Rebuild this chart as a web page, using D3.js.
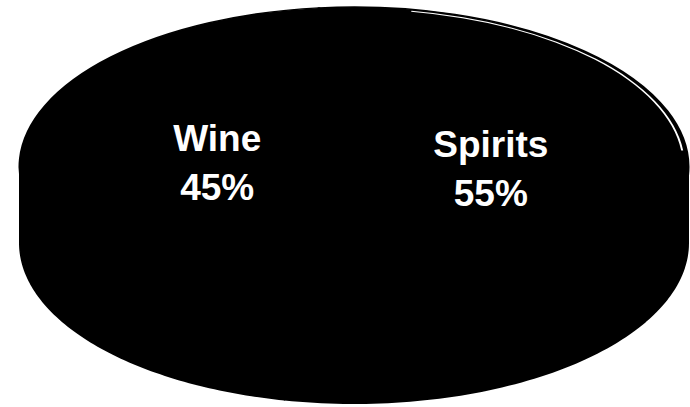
<!DOCTYPE html>
<html>
<head>
<meta charset="utf-8">
<script src="https://cdn.jsdelivr.net/npm/d3@7"></script>
<style>
  html, body { margin: 0; padding: 0; background: #fff; }
  svg { display: block; }
</style>
</head>
<body>
<svg id="chart" width="690" height="407"></svg>
<script>
// Beverage share by category
const categories = ["Wine", "Spirits"];
const shares = [45, 55];
const percentLabels = ["45%", "55%"];

const cx = 354, cy = 167;      // centre of the top face
const rx = 334, ry = 160;      // radii of the top face
const depth = 76;              // thickness of the 3D disc
const sy = ry / rx;
const labelRadius = 137;

const svg = d3.select("#chart");

const pie = d3.pie()
  .sort(null)
  .value(d => d.value)
  .startAngle(192 * Math.PI / 180)
  .endAngle((192 + 360) * Math.PI / 180);

const sliceData = categories.map((c, i) => ({ name: c, value: shares[i], label: percentLabels[i] }));
const arcs = pie(sliceData);

const arc = d3.arc().innerRadius(0).outerRadius(rx);

// point on the rim of the disc for a d3 pie angle (0 = up, clockwise)
function rim(a, dz) {
  return [cx + rx * Math.sin(a), cy - ry * Math.cos(a) + dz];
}

// outer side wall of each slice, only the part facing the viewer
function sidePath(d) {
  const norm = a => ((a % (2 * Math.PI)) + 2 * Math.PI) % (2 * Math.PI);
  const segs = [];
  const s = norm(d.startAngle);
  const e = s + (d.endAngle - d.startAngle);
  [[Math.PI / 2, 3 * Math.PI / 2], [Math.PI / 2 + 2 * Math.PI, 3 * Math.PI / 2 + 2 * Math.PI]].forEach(([lo, hi]) => {
    const a0 = Math.max(s, lo), a1 = Math.min(e, hi);
    if (a1 > a0) segs.push([a0, a1]);
  });
  return segs.map(([a0, a1]) => {
    const n = 80;
    const upper = d3.range(n + 1).map(k => rim(a0 + (a1 - a0) * k / n, -4));
    const lower = d3.range(n + 1).map(k => rim(a1 - (a1 - a0) * k / n, depth));
    return "M" + upper.concat(lower).map(p => p.join(",")).join("L") + "Z";
  }).join(" ");
}

// side walls
svg.append("g")
  .selectAll("path")
  .data(arcs)
  .join("path")
  .attr("d", sidePath)
  .attr("fill", "#000")
  .attr("stroke", "#000")
  .attr("stroke-width", 2)
  .attr("stroke-linejoin", "round");

// top faces
const topFace = svg.append("g")
  .attr("transform", `translate(${cx},${cy}) scale(1,${sy})`);

topFace.selectAll("path")
  .data(arcs)
  .join("path")
  .attr("d", arc)
  .attr("fill", "#000")
  .attr("stroke", "#000")
  .attr("stroke-width", 3)
  .attr("stroke-linejoin", "round");

// light sheen line along the upper right rim of the disc
const sheen = d3.arc()
  .innerRadius(rx - 5)
  .outerRadius(rx - 3)
  .startAngle(10 * Math.PI / 180)
  .endAngle(84 * Math.PI / 180);
topFace.append("path")
  .attr("d", sheen())
  .attr("fill", "#fff");

// labels
const labelArc = d3.arc().innerRadius(labelRadius).outerRadius(labelRadius);
const labels = svg.append("g")
  .attr("font-family", "'Liberation Sans', Arial, sans-serif")
  .attr("font-weight", "bold")
  .attr("font-size", 37)
  .attr("fill", "#fff")
  .attr("text-anchor", "middle");

arcs.forEach(d => {
  const [x, y] = labelArc.centroid(d);
  const px = cx + x, py = cy + y * sy;
  labels.append("text").attr("x", px).attr("y", py - 13).text(d.data.name);
  labels.append("text").attr("x", px).attr("y", py + 36).text(d.data.label);
});
</script>
</body>
</html>
